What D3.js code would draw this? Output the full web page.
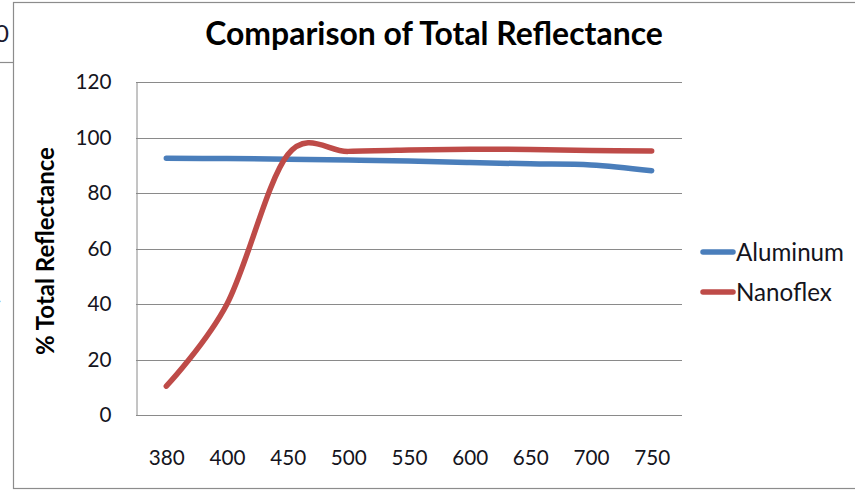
<!DOCTYPE html>
<html><head><meta charset="utf-8">
<script src="https://cdn.jsdelivr.net/npm/d3@7/dist/d3.min.js"></script>
<style>html,body{margin:0;padding:0;background:#fff;overflow:hidden}</style>
</head><body><svg id="c" width="855" height="493"></svg>
<script>
const categories = ["380","400","450","500","550","600","650","700","750"];
const aluminum = [92.5, 92.4, 92.2, 91.9, 91.5, 91.0, 90.5, 90.1, 88.0];
const nanoflex = [10.4, 40.0, 93.8, 95.0, 95.5, 95.8, 95.7, 95.3, 95.1];
const yTicks = [0, 20, 40, 60, 80, 100, 120];
const seriesNames = ["Aluminum", "Nanoflex"];
const seriesColors = ["#4a7ebb", "#be4b48"];

(function () {
const svg = d3.select("#c");
const font = "Lato, 'Open Sans', sans-serif";
const pLeft = 136, pRight = 682, pTop = 82, pBottom = 415;

function fit(sel, base, target) {
  const w = sel.node().getComputedTextLength();
  sel.attr("font-size", base * target / w);
  return base * target / w;
}

// outer frame bits
svg.append("rect").attr("x", 13.5).attr("y", 2.5).attr("width", 860).attr("height", 486)
  .attr("fill", "none").attr("stroke", "#8c8c8c").attr("stroke-width", 1.2);
svg.append("line").attr("x1", 0).attr("x2", 13).attr("y1", 62.5).attr("y2", 62.5)
  .attr("stroke", "#8c8c8c").attr("stroke-width", 1.2);
svg.append("text").attr("x", -5).attr("y", 42).attr("font-family", font)
  .attr("font-size", 24).attr("fill", "#1a1a2e").text("0");
svg.append("text").attr("x", -3).attr("y", 305).attr("font-family", font)
  .attr("font-size", 14).attr("fill", "#555").text("›");

const x = d3.scalePoint().domain(categories).range([pLeft, pRight]).padding(0.5);
const y = d3.scaleLinear().domain([0, 120]).range([pBottom, pTop]);

// gridlines
svg.append("g").selectAll("line").data(yTicks.filter(d => d > 0)).join("line")
  .attr("x1", pLeft).attr("x2", pRight)
  .attr("y1", d => Math.round(y(d)) + 0.5).attr("y2", d => Math.round(y(d)) + 0.5)
  .attr("stroke", "#8a8a8a").attr("stroke-width", 1);

// y axis
const yAxis = svg.append("g").attr("transform", `translate(${pLeft + 0.5},0)`)
  .call(d3.axisLeft(y).tickValues(yTicks).tickSize(0).tickPadding(25));
yAxis.select(".domain").attr("stroke", "#8a8a8a");
yAxis.selectAll("text").attr("font-family", font).attr("font-size", 20).attr("fill", "#141420");
const yLab = yAxis.selectAll("text").filter(d => d === 120);
const ySize = fit(yLab, 20, 36);
yAxis.selectAll("text").attr("font-size", ySize);

// x axis
const xAxis = svg.append("g").attr("transform", `translate(0,${pBottom + 0.5})`)
  .call(d3.axisBottom(x).tickSize(0).tickPadding(35));
xAxis.select(".domain").attr("stroke", "#8a8a8a").attr("d", `M${pLeft},0H${pRight}`);
xAxis.selectAll("text").attr("font-family", font).attr("font-size", ySize).attr("fill", "#141420");

// lines
const line = d3.line().x((d, i) => x(categories[i])).y(d => y(d))
  .curve(d3.curveCardinal.tension(0));
[aluminum, nanoflex].forEach((s, k) => {
  svg.append("path").datum(s).attr("d", line).attr("fill", "none")
    .attr("stroke", seriesColors[k]).attr("stroke-width", 5.5)
    .attr("stroke-linecap", "round").attr("stroke-linejoin", "round");
});

// title
const title = svg.append("text").attr("x", 434).attr("y", 45).attr("text-anchor", "middle")
  .attr("font-family", font).attr("font-weight", "bold").attr("font-size", 27)
  .attr("fill", "#000").text("Comparison of Total Reflectance");
fit(title, 27, 458);

// y axis title
const yt = svg.append("text").attr("transform", "translate(54,251) rotate(-90)")
  .attr("text-anchor", "middle").attr("font-family", font).attr("font-weight", "bold")
  .attr("font-size", 19).attr("fill", "#000").text("% Total Reflectance");
fit(yt, 19, 208);

// legend
const legend = svg.append("g");
let lSize = null;
seriesNames.forEach((n, k) => {
  const ly = 252 + k * 40;
  legend.append("line").attr("x1", 703).attr("x2", 733).attr("y1", ly).attr("y2", ly)
    .attr("stroke", seriesColors[k]).attr("stroke-width", 5.5).attr("stroke-linecap", "round");
  const t = legend.append("text").attr("x", 736).attr("y", ly + 9).attr("font-family", font)
    .attr("font-size", 20).attr("fill", "#141420").text(n);
  if (k === 0) lSize = fit(t, 20, 108); else t.attr("font-size", lSize);
});
})();
</script></body></html>
